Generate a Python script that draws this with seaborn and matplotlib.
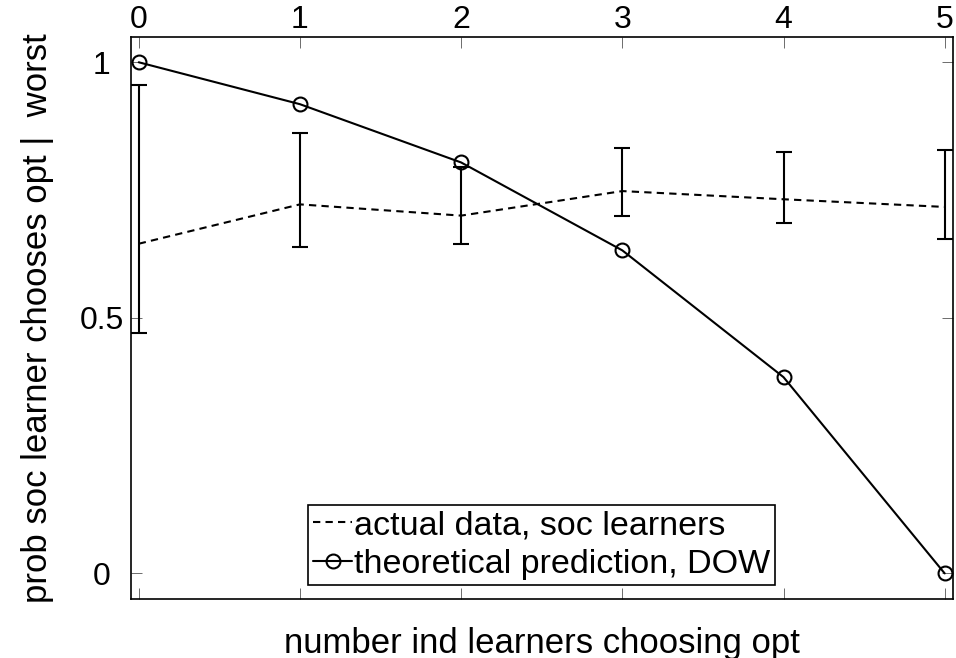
import matplotlib
matplotlib.use("Agg")
import matplotlib.pyplot as plt
import seaborn as sns
import pandas as pd

# data
n_ind = [0, 1, 2, 3, 4, 5]
actual_mean = [0.645, 0.722, 0.700, 0.748, 0.732, 0.717]
actual_upper = [0.956, 0.861, 0.795, 0.832, 0.824, 0.828]
actual_lower = [0.470, 0.638, 0.644, 0.700, 0.685, 0.654]
theory = [1.0, 0.918, 0.804, 0.632, 0.384, 0.0]
xticks = [0, 1, 2, 3, 4, 5]
yticks = [0, 0.5, 1]
ytick_labels = ["0", "0.5", "1"]

sns.set_style("white")
plt.rcParams["font.family"] = ["Liberation Sans", "DejaVu Sans"]
plt.rcParams["text.color"] = "black"
plt.rcParams["axes.labelcolor"] = "black"
plt.rcParams["xtick.labelcolor"] = "black"
plt.rcParams["ytick.labelcolor"] = "black"
FS = 25
TFS = 23

fig = plt.figure(figsize=(9.56, 6.58), dpi=100)
ax = fig.add_axes([0.1367, 0.0897, 0.9966 - 0.1367, 0.9442 - 0.0897])

df = pd.DataFrame({"x": n_ind, "actual": actual_mean, "theory": theory})

yerr_low = [m - l for m, l in zip(actual_mean, actual_lower)]
yerr_up = [u - m for m, u in zip(actual_mean, actual_upper)]
ax.errorbar(n_ind, actual_mean, yerr=[yerr_low, yerr_up], fmt="none",
            ecolor="black", elinewidth=1.5, capsize=5.5, capthick=1.5, zorder=2)

sns.lineplot(data=df, x="x", y="actual", ax=ax, color="black", lw=1.5,
             linestyle=(0, (3.5, 2.5)), label="actual data, soc learners", zorder=3)
sns.lineplot(data=df, x="x", y="theory", ax=ax, color="black", lw=1.5,
             marker="o", markersize=10, markerfacecolor="none",
             markeredgecolor="black", markeredgewidth=1.5,
             label="theoretical prediction, DOW", zorder=4)

ax.set_xlim(-0.05, 5.05)
ax.set_ylim(-0.05, 1.05)
ax.set_xticks(xticks)
ax.set_yticks(yticks)
ax.set_yticklabels(ytick_labels)
ax.tick_params(axis="both", which="both", direction="in", length=8, width=0.6,
               color="#555555", labelsize=TFS, labelcolor="black")
ax.tick_params(axis="x", top=True, bottom=True, labeltop=True, labelbottom=False, pad=1)
ax.tick_params(axis="y", left=True, right=True, labelleft=True, labelright=False, pad=21)
for lab in ax.get_yticklabels():
    lab.set_horizontalalignment("center")
for s in ax.spines.values():
    s.set_color("black")
    s.set_linewidth(1.2)

ax.set_xlabel("number ind learners choosing opt", fontsize=FS, labelpad=20, color="black")
ax.set_ylabel("prob soc learner chooses opt |  worst", fontsize=FS, labelpad=18, color="black")

leg = ax.legend(loc="lower left", bbox_to_anchor=(0.2157, 0.0249), fontsize=24.5,
                frameon=True, fancybox=False, edgecolor="black", framealpha=1,
                handlelength=1.15, handletextpad=0.05, borderpad=0.15,
                labelspacing=0.22, borderaxespad=0)
leg.get_frame().set_linewidth(1.2)
for t in leg.get_texts():
    t.set_color("black")

fig.savefig("out.png", dpi=100)
